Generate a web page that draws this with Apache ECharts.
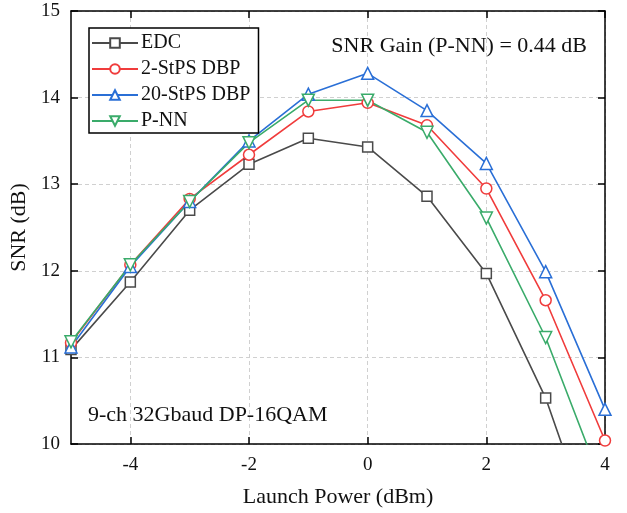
<!DOCTYPE html>
<html>
<head>
<meta charset="utf-8">
<script src="https://cdn.jsdelivr.net/npm/echarts@6/dist/echarts.min.js"></script>
<style>html,body{margin:0;padding:0;background:#fff}#c{width:627px;height:513px}</style>
</head>
<body>
<div id="c"></div>
<script>
const launchPower = [-5, -4, -3, -2, -1, 0, 1, 2, 3, 4];
const edc = [11.09, 11.87, 12.70, 13.23, 13.53, 13.43, 12.86, 11.97, 10.53, 8.57];
const dbp2 = [11.17, 12.07, 12.83, 13.34, 13.84, 13.94, 13.68, 12.95, 11.66, 10.04];
const dbp20 = [11.12, 12.05, 12.80, 13.50, 14.04, 14.28, 13.85, 13.24, 11.99, 10.40];
const pnn = [11.18, 12.07, 12.80, 13.48, 13.97, 13.97, 13.60, 12.61, 11.23, 9.45];
const seriesNames = ['EDC', '2-StPS DBP', '20-StPS DBP', 'P-NN'];
const xTicks = [-4, -2, 0, 2, 4];

const font = 'Liberation Serif';
const colors = ['#4a4a4a', '#f03c3c', '#2a6fd6', '#3aab6a'];
const symbols = ['rect', 'circle', 'triangle', 'path://M0,0 L10,0 L5,9 Z'];
const symSizes = [10, 11, 12, 12];
const dataSets = [edc, dbp2, dbp20, pnn];

const chart = echarts.init(document.getElementById('c'), null, {renderer: 'canvas'});
const series = dataSets.map((d, i) => ({
  name: seriesNames[i],
  type: 'line',
  data: launchPower.map((x, j) => [x, d[j]]),
  symbol: symbols[i],
  symbolSize: symSizes[i],
  showAllSymbol: true,
  clip: true,
  color: colors[i],
  lineStyle: {color: colors[i], width: 1.6},
  itemStyle: {color: '#fff', borderColor: colors[i], borderWidth: 1.5},
  emphasis: {disabled: true},
  animation: false
}));

const tickStyle = {inside: true, length: 7, lineStyle: {color: '#000', width: 1.5}};
chart.setOption({
  animation: false,
  grid: {left: 71, right: 22, top: 11, bottom: 69, containLabel: false},
  title: [
    {text: 'SNR Gain (P-NN) = 0.44 dB', right: 35, top: 30,
     textStyle: {fontFamily: font, fontSize: 22, fontWeight: 'normal', color: '#111'}},
    {text: '9-ch 32Gbaud DP-16QAM', left: 83, top: 399,
     textStyle: {fontFamily: font, fontSize: 22, fontWeight: 'normal', color: '#111'}}
  ],
  legend: {
    orient: 'vertical', left: 89, top: 28,
    data: seriesNames,
    itemWidth: 46, itemHeight: 12, itemGap: 6,
    padding: [5, 8, 2, 2],
    borderColor: '#000', borderWidth: 1.5, backgroundColor: '#fff',
    textStyle: {fontFamily: font, fontSize: 20, color: '#111', padding: [0, 0, 0, -2]}
  },
  xAxis: [{
    type: 'value', min: -5, max: 4, position: 'bottom',
    name: 'Launch Power (dBm)', nameLocation: 'middle', nameGap: 42,
    nameTextStyle: {fontFamily: font, fontSize: 22, color: '#111'},
    axisLine: {onZero: false, lineStyle: {color: '#000', width: 1.5}},
    axisTick: Object.assign({customValues: xTicks}, tickStyle),
    axisLabel: {customValues: xTicks, fontFamily: font, fontSize: 19, color: '#111', margin: 12},
    splitLine: {show: true, lineStyle: {color: '#d0d0d0', type: [4, 3], width: 1}}
  }, {
    type: 'value', min: -5, max: 4, position: 'top',
    axisLine: {onZero: false, lineStyle: {color: '#000', width: 1.5}},
    axisTick: Object.assign({customValues: xTicks}, tickStyle),
    axisLabel: {show: false},
    splitLine: {show: false}
  }],
  yAxis: [{
    type: 'value', min: 10, max: 15, interval: 1, position: 'left',
    name: 'SNR (dB)', nameLocation: 'middle', nameGap: 40, nameRotate: 90,
    nameTextStyle: {fontFamily: font, fontSize: 22, color: '#111'},
    axisLine: {show: true, onZero: false, lineStyle: {color: '#000', width: 1.5}},
    axisTick: Object.assign({show: true}, tickStyle),
    axisLabel: {fontFamily: font, fontSize: 19, color: '#111', margin: 11},
    splitLine: {show: true, lineStyle: {color: '#d0d0d0', type: [4, 3], width: 1}}
  }, {
    type: 'value', min: 10, max: 15, interval: 1, position: 'right',
    axisLine: {show: true, onZero: false, lineStyle: {color: '#000', width: 1.5}},
    axisTick: Object.assign({show: true}, tickStyle),
    axisLabel: {show: false},
    splitLine: {show: false}
  }],
  series: series
});
</script>
</body>
</html>
